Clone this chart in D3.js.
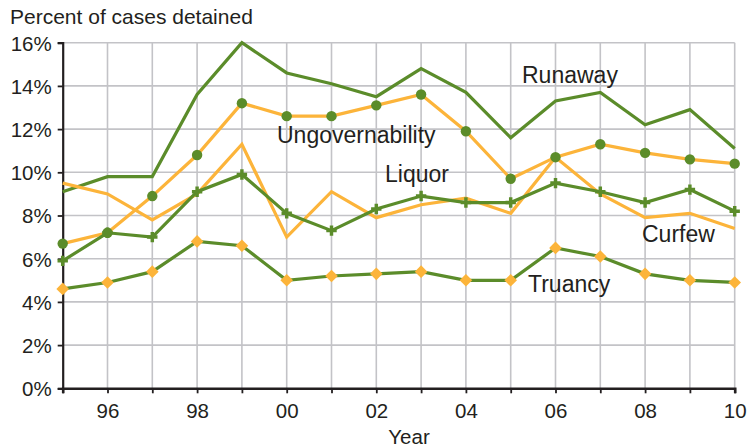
<!DOCTYPE html>
<html><head><meta charset="utf-8">
<script src="https://cdn.jsdelivr.net/npm/d3@7"></script>
<style>
html,body{margin:0;padding:0;background:#fff;}
text{font-family:"Liberation Sans",Arial,Helvetica,sans-serif;fill:#231f20;}
</style></head>
<body><svg id="c" width="748" height="447"></svg>
<script>
const years = [1995,1996,1997,1998,1999,2000,2001,2002,2003,2004,2005,2006,2007,2008,2009,2010];
const runaway = [9.1,9.8,9.8,13.6,16.0,14.6,14.1,13.5,14.8,13.7,11.6,13.3,13.7,12.2,12.9,11.1];
const ungovernability = [6.7,7.2,8.9,10.8,13.2,12.6,12.6,13.1,13.6,11.9,9.7,10.7,11.3,10.9,10.6,10.4];
const curfew = [9.5,9.0,7.8,9.0,11.3,7.0,9.1,7.9,8.5,8.8,8.1,10.7,9.0,7.9,8.1,7.4];
const liquor = [5.9,7.2,7.0,9.1,9.9,8.1,7.3,8.3,8.9,8.6,8.6,9.5,9.1,8.6,9.2,8.2];
const truancy = [4.6,4.9,5.4,6.8,6.6,5.0,5.2,5.3,5.4,5.0,5.0,6.5,6.1,5.3,5.0,4.9];
const yTicks = [0,2,4,6,8,10,12,14,16];
const xTickYears = [1996,1998,2000,2002,2004,2006,2008,2010];
const labels = ["Runaway","Ungovernability","Liquor","Curfew","Truancy"];

const GREEN = "#5b8c2a", ORANGE = "#fcb43a";
const svg = d3.select("#c");
const x = d3.scaleLinear().domain([1995,2010]).range([62.7,734.7]);
const y = d3.scaleLinear().domain([0,16]).range([388.3,42.7]);

// grid
const g = svg.append("g");
g.selectAll(".hg").data(yTicks.filter(d=>d>0)).enter().append("line")
  .attr("x1",x(1995)).attr("x2",x(2010)).attr("y1",d=>y(d)).attr("y2",d=>y(d))
  .attr("stroke","#c3c3c7").attr("stroke-width",1.6);
g.selectAll(".vg").data(years.slice(1)).enter().append("line")
  .attr("x1",d=>x(d)).attr("x2",d=>x(d)).attr("y1",y(16)).attr("y2",y(0))
  .attr("stroke","#c3c3c7").attr("stroke-width",1.6);

// axes
const yAxis = svg.append("g").attr("transform",`translate(${x(1995)},0)`)
  .call(d3.axisLeft(y).tickValues(yTicks).tickFormat(d=>d+"%").tickSize(5).tickPadding(6));
yAxis.select(".domain").attr("stroke","#231f20").attr("stroke-width",2.2);
yAxis.selectAll(".tick line").attr("stroke","#231f20").attr("stroke-width",1.8);
yAxis.selectAll("text").attr("font-size",20.5).attr("fill","#231f20").attr("dy","0.36em")
  .style("font-family",'"Liberation Sans",Arial,sans-serif');

const xAxis = svg.append("g").attr("transform",`translate(0,${y(0)})`)
  .call(d3.axisBottom(x).tickValues(years).tickFormat(d=>xTickYears.includes(d)?String(d).slice(2):"").tickSize(5).tickPadding(10));
xAxis.select(".domain").attr("stroke","#231f20").attr("stroke-width",2.6);
xAxis.selectAll(".tick line").attr("stroke","#231f20").attr("stroke-width",1.8);
xAxis.selectAll("text").attr("font-size",20.5).attr("fill","#231f20")
  .style("font-family",'"Liberation Sans",Arial,sans-serif');

svg.append("text").attr("x",409).attr("y",444).attr("text-anchor","middle").attr("font-size",20.5).text("Year");
svg.append("text").attr("x",10).attr("y",24).attr("font-size",21).text("Percent of cases detained");

const line = d3.line().x((d,i)=>x(years[i])).y(d=>y(d));
function drawLine(data,color){
  svg.append("path").datum(data).attr("d",line).attr("fill","none")
    .attr("stroke",color).attr("stroke-width",3.2).attr("stroke-linejoin","miter");
}
function drawMarks(data,type,size,color,rot){
  svg.append("g").selectAll("path").data(data).enter().append("path")
    .attr("d",d3.symbol().type(type).size(size))
    .attr("transform",(d,i)=>`translate(${x(years[i])},${y(d)}) rotate(${rot||0})`)
    .attr("fill",color);
}
drawLine(runaway,GREEN);
drawLine(curfew,ORANGE);
drawLine(ungovernability,ORANGE);
drawMarks(ungovernability,d3.symbolCircle,85,GREEN);
drawLine(liquor,GREEN);
drawMarks(liquor,d3.symbolCross,60,GREEN);
drawLine(truancy,GREEN);
drawMarks(truancy,d3.symbolSquare,80,ORANGE,45);

const labPos = [[522,83],[277,143],[385,182],[642,242],[528,292]];
labels.forEach((t,i)=>{
  svg.append("text").attr("x",labPos[i][0]).attr("y",labPos[i][1]).attr("font-size",23).text(t);
});
</script></body></html>
